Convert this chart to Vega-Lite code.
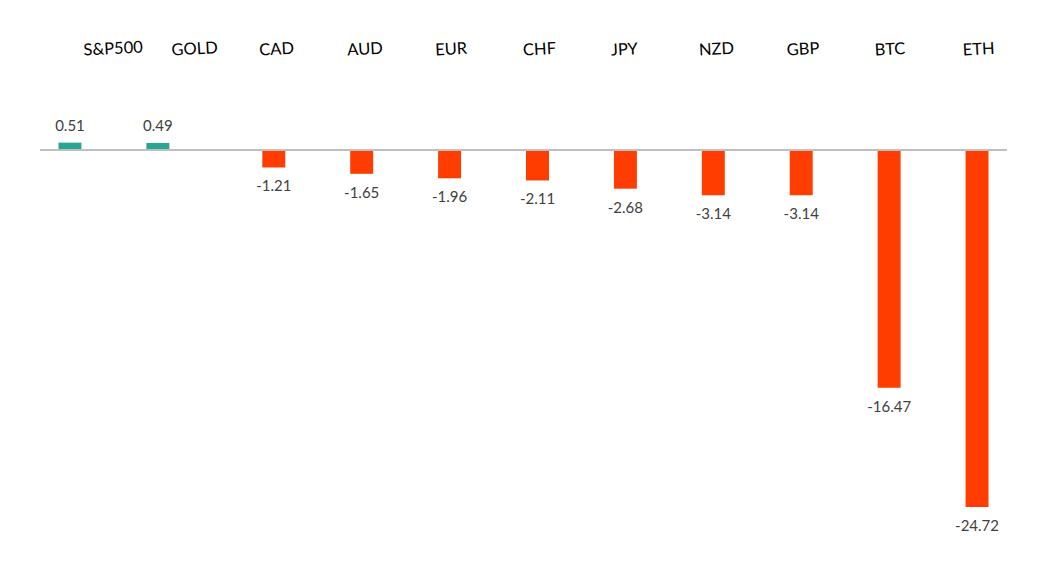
{
  "$schema": "https://vega.github.io/schema/vega-lite/v6.json",
  "autosize": "none",
  "width": 967,
  "height": 496,
  "padding": {"left": 40, "right": 41, "top": 70, "bottom": 0},
  "background": "white",
  "config": {
    "view": {"stroke": null},
    "font": "Lato",
    "locale": {"number": {"decimal": ".", "thousands": ",", "grouping": [3], "currency": ["$", ""], "minus": "-"}}
  },
  "data": {"values": [
    {"asset": "S&P500", "value": 0.51, "dir": "pos"},
    {"asset": "GOLD", "value": 0.49, "dir": "pos"},
    {"asset": "CAD", "value": -1.21, "dir": "neg"},
    {"asset": "AUD", "value": -1.65, "dir": "neg"},
    {"asset": "EUR", "value": -1.96, "dir": "neg"},
    {"asset": "CHF", "value": -2.11, "dir": "neg"},
    {"asset": "JPY", "value": -2.68, "dir": "neg"},
    {"asset": "NZD", "value": -3.14, "dir": "neg"},
    {"asset": "GBP", "value": -3.14, "dir": "neg"},
    {"asset": "BTC", "value": -16.47, "dir": "neg"},
    {"asset": "ETH", "value": -24.72, "dir": "neg"}
  ]},
  "encoding": {
    "x": {
      "field": "asset", "type": "nominal", "sort": null,
      "scale": {"paddingInner": 0, "paddingOuter": 0},
      "axis": {"orient": "top", "title": null, "domain": false, "ticks": false, "labelAngle": -3, "labelPadding": 12, "labelDx": 16, "labelFontSize": 16.5, "labelColor": "#000000", "labelFont": "Lato"}
    },
    "xOffset": {
      "field": "dir", "type": "nominal",
      "scale": {"domain": ["pos", "neg"], "paddingInner": 0.18, "paddingOuter": 0.66}
    },
    "y": {
      "field": "value", "type": "quantitative",
      "scale": {"domain": [-28.81, 5.54], "nice": false, "zero": false},
      "axis": null
    }
  },
  "layer": [
    {
      "mark": {"type": "bar"},
      "encoding": {
        "y2": {"datum": 0},
        "color": {"field": "dir", "type": "nominal", "scale": {"domain": ["pos", "neg"], "range": ["#2BA593", "#FF3D00"]}, "legend": null}
      }
    },
    {
      "mark": {"type": "rule", "color": "#BFBFBF", "strokeWidth": 2},
      "encoding": {"y": {"datum": 0}, "x": null, "xOffset": null}
    },
    {
      "transform": [{"filter": "datum.value >= 0"}],
      "mark": {"type": "text", "baseline": "bottom", "dy": -9, "fontSize": 15, "color": "#404040", "font": "Lato"},
      "encoding": {"text": {"field": "value", "type": "quantitative", "format": ".2f"}}
    },
    {
      "transform": [{"filter": "datum.value < 0"}],
      "mark": {"type": "text", "baseline": "top", "dy": 12, "fontSize": 15, "color": "#404040", "font": "Lato"},
      "encoding": {"text": {"field": "value", "type": "quantitative", "format": ".2f"}}
    }
  ]
}
